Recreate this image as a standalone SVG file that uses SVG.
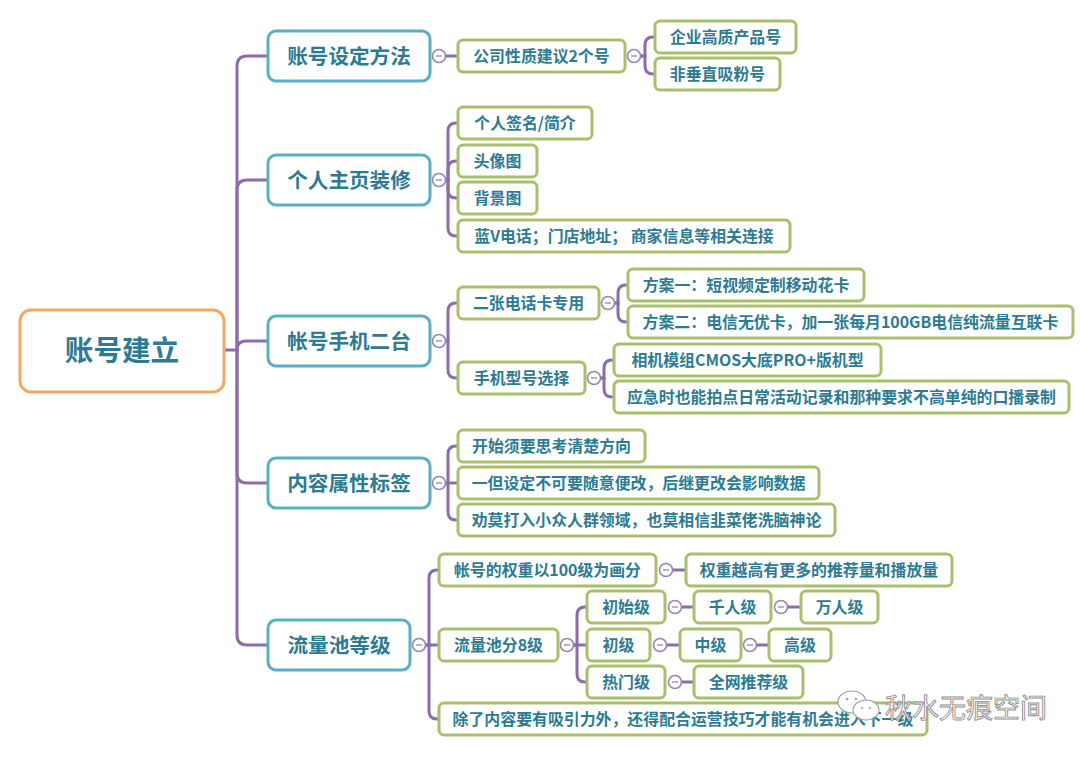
<svg xmlns="http://www.w3.org/2000/svg" width="1080" height="757" viewBox="0 0 1080 757">
<style>
.t{font-family:"Noto Sans CJK SC","Noto Sans",sans-serif;font-weight:bold;fill:#2C7B92;text-anchor:middle}
.t0{font-size:28.6px}
.t1{font-size:20.6px}
.t2{font-size:15.9px}
.b0{fill:#fff;stroke:#F2A764;stroke-width:3}
.b1{fill:#fff;stroke:#5BAFC2;stroke-width:3}
.b2{fill:#fff;stroke:#A9BF6C;stroke-width:3}
.c{fill:none;stroke:#8C6DAA;stroke-width:3;stroke-linecap:round}
.k{fill:#fff;stroke:#9B84B8;stroke-width:1.6}
.km{stroke:#8F8F9F;stroke-width:1.3}
.wm{font-family:"Noto Sans CJK SC",sans-serif;font-size:27px;font-weight:normal;fill:#fff;stroke:#8E8E8E;stroke-width:0.9}
</style>
<defs>
<g id="col"><circle class="k" r="6.5" cx="0" cy="0"/><line class="km" x1="-3" y1="0" x2="3" y2="0"/></g>
</defs>
<rect width="1080" height="757" fill="#fff"/>

<g id="connectors">
<path class="c" d="M224 350 H237"/>
<path class="c" d="M237 350 V66 Q237 56 247 56 H268"/>
<path class="c" d="M237 350 V190 Q237 180 247 180 H268"/>
<path class="c" d="M237 350 Q237 341 246 341 H268"/>
<path class="c" d="M237 350 V473 Q237 483 247 483 H268"/>
<path class="c" d="M237 350 V635 Q237 645 247 645 H268"/>
<path class="c" d="M445 56 H458"/>
<path class="c" d="M640 56 H645 V45 Q645 37 653 37 H655"/>
<path class="c" d="M640 56 H645 V66 Q645 74 653 74 H655"/>
<path class="c" d="M445 180 H448 V131 Q448 123 456 123 H458"/>
<path class="c" d="M445 180 H448 V169 Q448 161 456 161 H458"/>
<path class="c" d="M445 180 H448 V190 Q448 198 456 198 H458"/>
<path class="c" d="M445 180 H448 V228 Q448 236 456 236 H458"/>
<path class="c" d="M445 341 H448 V311 Q448 303 456 303 H458"/>
<path class="c" d="M445 341 H448 V370 Q448 378 456 378 H458"/>
<path class="c" d="M614 303 H618 V293 Q618 285 626 285 H628"/>
<path class="c" d="M614 303 H618 V314 Q618 322 626 322 H628"/>
<path class="c" d="M600 378 H604 V368 Q604 360 612 360 H614"/>
<path class="c" d="M600 378 H604 V389 Q604 397 612 397 H614"/>
<path class="c" d="M445 483 H448 V454 Q448 446 456 446 H458"/>
<path class="c" d="M445 483 H458"/>
<path class="c" d="M445 483 H448 V512 Q448 520 456 520 H458"/>
<path class="c" d="M425 645 H429 V578 Q429 570 437 570 H439"/>
<path class="c" d="M425 645 H439"/>
<path class="c" d="M425 645 H429 V711 Q429 719 437 719 H439"/>
<path class="c" d="M672 570 H686"/>
<path class="c" d="M573 645 H577 V615 Q577 607 585 607 H587"/>
<path class="c" d="M573 645 H587"/>
<path class="c" d="M573 645 H577 V674 Q577 682 585 682 H587"/>
<path class="c" d="M681 607 H694"/>
<path class="c" d="M787 607 H801"/>
<path class="c" d="M666 645 H680"/>
<path class="c" d="M756 645 H769"/>
<path class="c" d="M681 682 H694"/>
</g>

<g id="root"><rect class="b0" x="20" y="310" width="204" height="82" rx="11"/><text class="t t0" x="122" y="361">账号建立</text></g>

<g id="n1"><rect class="b1" x="268" y="31" width="162" height="50" rx="8"/><text class="t t1" x="349" y="63.8">账号设定方法</text><use href="#col" x="439" y="56"/></g>
<g id="n2"><rect class="b1" x="268" y="155" width="162" height="50" rx="8"/><text class="t t1" x="349" y="187.8">个人主页装修</text><use href="#col" x="439" y="180"/></g>
<g id="n3"><rect class="b1" x="268" y="316" width="162" height="50" rx="8"/><text class="t t1" x="349" y="348.8">帐号手机二台</text><use href="#col" x="439" y="341"/></g>
<g id="n4"><rect class="b1" x="268" y="458" width="162" height="50" rx="8"/><text class="t t1" x="349" y="490.8">内容属性标签</text><use href="#col" x="439" y="483"/></g>
<g id="n5"><rect class="b1" x="268" y="620" width="142" height="50" rx="8"/><text class="t t1" x="339" y="652.8">流量池等级</text><use href="#col" x="419" y="645"/></g>

<g id="n1a"><rect class="b2" x="458" y="40" width="167" height="32" rx="5"/><text class="t t2" x="541.5" y="62">公司性质建议2个号</text><use href="#col" x="634" y="56"/></g>
<g id="n1a1"><rect class="b2" x="655" y="21" width="141" height="32" rx="5"/><text class="t t2" x="725.5" y="43">企业高质产品号</text></g>
<g id="n1a2"><rect class="b2" x="655" y="58" width="125" height="32" rx="5"/><text class="t t2" x="717.5" y="80">非垂直吸粉号</text></g>

<g id="n2a"><rect class="b2" x="458" y="107" width="134" height="32" rx="5"/><text class="t t2" x="525" y="129">个人签名/简介</text></g>
<g id="n2b"><rect class="b2" x="458" y="145" width="79" height="32" rx="5"/><text class="t t2" x="497.5" y="167">头像图</text></g>
<g id="n2c"><rect class="b2" x="458" y="182" width="79" height="32" rx="5"/><text class="t t2" x="497.5" y="204">背景图</text></g>
<g id="n2d"><rect class="b2" x="458" y="220" width="332" height="32" rx="5"/><text class="t t2" x="624" y="242">蓝V电话；门店地址； 商家信息等相关连接</text></g>

<g id="n3a"><rect class="b2" x="458" y="287" width="141" height="32" rx="5"/><text class="t t2" x="528.5" y="309">二张电话卡专用</text><use href="#col" x="608" y="303"/></g>
<g id="n3a1"><rect class="b2" x="628" y="269" width="236" height="32" rx="5"/><text class="t t2" x="746" y="291">方案一：短视频定制移动花卡</text></g>
<g id="n3a2"><rect class="b2" x="628" y="306" width="445" height="32" rx="5"/><text class="t t2" x="850.5" y="328">方案二：电信无优卡，加一张每月100GB电信纯流量互联卡</text></g>
<g id="n3b"><rect class="b2" x="458" y="362" width="127" height="32" rx="5"/><text class="t t2" x="521.5" y="384">手机型号选择</text><use href="#col" x="594" y="378"/></g>
<g id="n3b1"><rect class="b2" x="614" y="344" width="267" height="32" rx="5"/><text class="t t2" x="747.5" y="366">相机模组CMOS大底PRO+版机型</text></g>
<g id="n3b2"><rect class="b2" x="614" y="381" width="455" height="32" rx="5"/><text class="t t2" x="841.5" y="403">应急时也能拍点日常活动记录和那种要求不高单纯的口播录制</text></g>

<g id="n4a"><rect class="b2" x="458" y="430" width="187" height="32" rx="5"/><text class="t t2" x="551.5" y="452">开始须要思考清楚方向</text></g>
<g id="n4b"><rect class="b2" x="458" y="467" width="361" height="32" rx="5"/><text class="t t2" x="638.5" y="489">一但设定不可要随意便改，后继更改会影响数据</text></g>
<g id="n4c"><rect class="b2" x="458" y="504" width="377" height="32" rx="5"/><text class="t t2" x="646.5" y="526">劝莫打入小众人群领域，也莫相信韭菜佬洗脑神论</text></g>

<g id="n5a"><rect class="b2" x="439" y="554" width="217" height="32" rx="5"/><text class="t t2" x="547.5" y="576">帐号的权重以100级为画分</text><use href="#col" x="666" y="570"/></g>
<g id="n5a1"><rect class="b2" x="686" y="554" width="266" height="32" rx="5"/><text class="t t2" x="819" y="576">权重越高有更多的推荐量和播放量</text></g>
<g id="n5b"><rect class="b2" x="439" y="629" width="119" height="32" rx="5"/><text class="t t2" x="498.5" y="651">流量池分8级</text><use href="#col" x="567" y="645"/></g>
<g id="n5b1"><rect class="b2" x="587" y="591" width="78" height="32" rx="5"/><text class="t t2" x="626" y="613">初始级</text><use href="#col" x="675" y="607"/></g>
<g id="n5b1a"><rect class="b2" x="694" y="591" width="77" height="32" rx="5"/><text class="t t2" x="732.5" y="613">千人级</text><use href="#col" x="781" y="607"/></g>
<g id="n5b1b"><rect class="b2" x="801" y="591" width="77" height="32" rx="5"/><text class="t t2" x="839.5" y="613">万人级</text></g>
<g id="n5b2"><rect class="b2" x="587" y="629" width="63" height="32" rx="5"/><text class="t t2" x="618.5" y="651">初级</text><use href="#col" x="660" y="645"/></g>
<g id="n5b2a"><rect class="b2" x="680" y="629" width="61" height="32" rx="5"/><text class="t t2" x="710.5" y="651">中级</text><use href="#col" x="750" y="645"/></g>
<g id="n5b2b"><rect class="b2" x="769" y="629" width="62" height="32" rx="5"/><text class="t t2" x="800" y="651">高级</text></g>
<g id="n5b3"><rect class="b2" x="587" y="666" width="78" height="32" rx="5"/><text class="t t2" x="626" y="688">热门级</text><use href="#col" x="675" y="682"/></g>
<g id="n5b3a"><rect class="b2" x="694" y="666" width="109" height="32" rx="5"/><text class="t t2" x="748.5" y="688">全网推荐级</text></g>
<g id="n5c"><rect class="b2" x="439" y="703" width="488" height="32" rx="5"/><text class="t t2" x="683" y="725">除了内容要有吸引力外，还得配合运营技巧才能有机会进入下一级</text></g>

<g id="watermark">
<ellipse cx="852" cy="702" rx="14" ry="11" fill="#fff" stroke="#A0A0A0" stroke-width="1.2"/>
<ellipse cx="866" cy="710" rx="13" ry="10" fill="#fff" stroke="#A0A0A0" stroke-width="1.2"/>
<circle cx="847" cy="699" r="1.3" fill="#A0A0A0"/><circle cx="856" cy="699" r="1.3" fill="#A0A0A0"/>
<circle cx="862" cy="708" r="1.1" fill="#A0A0A0"/><circle cx="870" cy="708" r="1.1" fill="#A0A0A0"/>
<text class="wm" x="885" y="718">秋水无痕空间</text>
</g>
</svg>
